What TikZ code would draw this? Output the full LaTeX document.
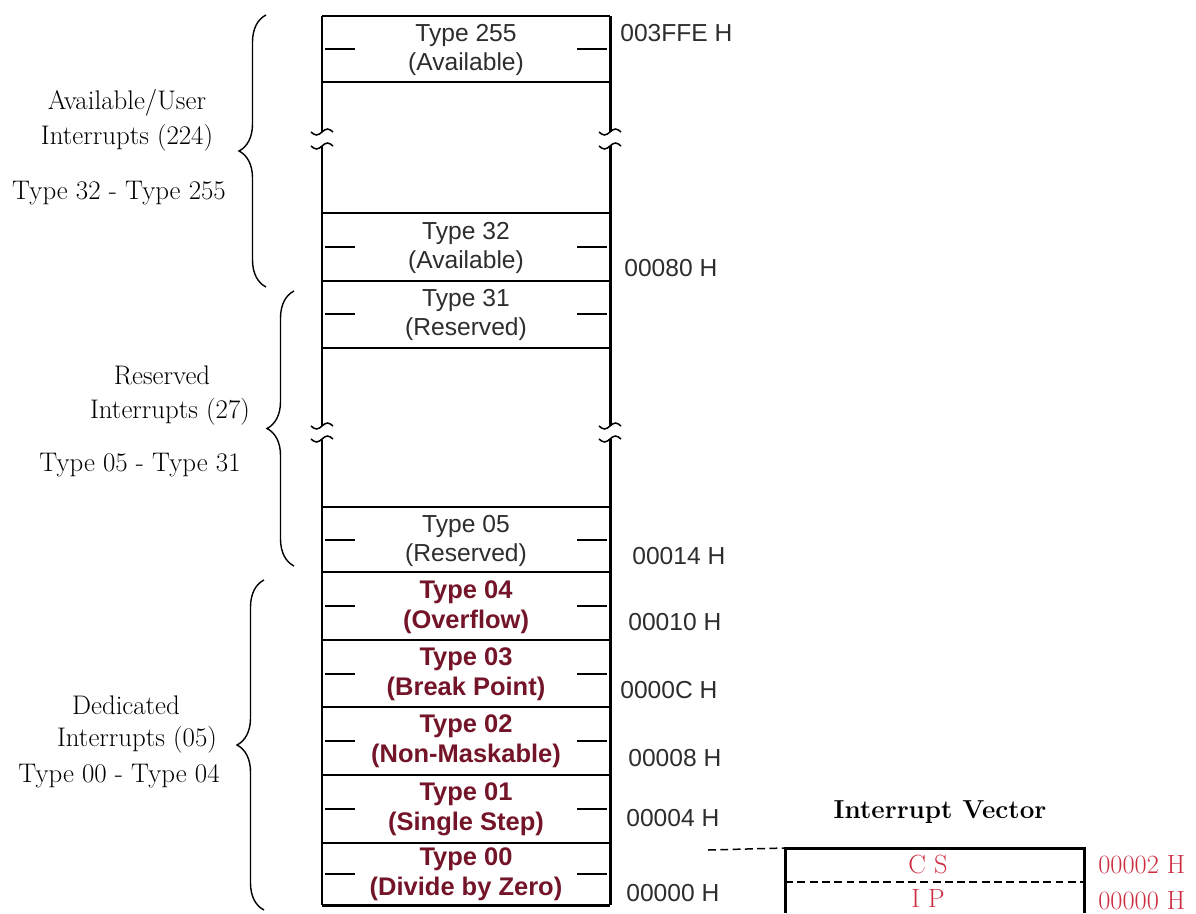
\documentclass[tikz,border=0pt]{standalone}
\usepackage{fontspec}
\newfontfamily\arialfont{Liberation Sans}
\usetikzlibrary{decorations.pathreplacing}
\definecolor{cellgray}{RGB}{45,45,45}
\definecolor{darkmaroon}{RGB}{115,20,40}
\definecolor{vecred}{RGB}{205,45,65}
\tikzset{
  cell/.style={align=center,text=cellgray,font=\arialfont\fontsize{14}{17}\selectfont},
  cellred/.style={align=center,text=darkmaroon,font=\arialfont\bfseries\fontsize{14.5}{17}\selectfont},
  addr/.style={anchor=west,inner sep=0pt,text=cellgray,font=\arialfont\fontsize{14}{17}\selectfont},
  side/.style={font=\fontsize{15.3}{18}\selectfont},
  vec/.style={text=vecred,font=\fontsize{15}{18}\selectfont},
  outer/.style={line width=1.7pt},
  inner/.style={line width=0.85pt},
  tick/.style={line width=0.85pt},
  curly/.style={decorate,decoration={brace,amplitude=0.54cm},line width=0.8pt},
  gapdash/.style={dash pattern=on 4.5pt off 2.5pt},
}
\begin{document}
\begin{tikzpicture}[x=0.02cm,y=-0.02cm]
  \useasboundingbox (0,0) rectangle (1196,913);
  % vector table
  \draw[outer] (322,16) -- (610,16);
  \draw[outer] (322,905) -- (610,905);
  \foreach \x in {322,610} {
    \draw[outer] (\x,16) -- (\x,132);
    \draw[outer] (\x,146) -- (\x,426);
    \draw[outer] (\x,439) -- (\x,905);
    \foreach \y in {132,146,426,439}
      \draw[inner] (\x-11,\y) sin (\x-5.5,\y+3) cos (\x,\y) sin (\x+5.5,\y-3) cos (\x+11,\y);
  }
  \foreach \y in {82,213,281,348,507,572,640,707,775,843}
    \draw[inner] (322,\y) -- (610,\y);
  \foreach \y in {49,247,314,540,606,674,741,809,874} {
    \draw[tick] (325,\y) -- (355,\y);
    \draw[tick] (577,\y) -- (607,\y);
  }
  \node[cell] (t255) at (466,50) {Type 255\\(Available)};
  \node[cell] (t32) at (466,248) {Type 32\\(Available)};
  \node[cell] (t31) at (466,315) {Type 31\\(Reserved)};
  \node[cell] (t05) at (466,541) {Type 05\\(Reserved)};
  \node[cellred] (t04) at (466,607) {Type 04\\(Overflow)};
  \node[cellred] (t03) at (466,674) {Type 03\\(Break Point)};
  \node[cellred] (t02) at (466,741) {Type 02\\(Non-Maskable)};
  \node[cellred] (t01) at (466,809) {Type 01\\(Single Step)};
  \node[cellred] (t00) at (466,874) {Type 00\\(Divide by Zero)};
  % addresses
  \node[addr] (a255) at (620,33) {003FFE H};
  \node[addr] (a32) at (624,268) {00080 H};
  \node[addr] (a05) at (632,556) {00014 H};
  \node[addr] (a04) at (628,622) {00010 H};
  \node[addr] (a03) at (620,690) {0000C H};
  \node[addr] (a02) at (628,758) {00008 H};
  \node[addr] (a01) at (626,818) {00004 H};
  \node[addr] (a00) at (626,893) {00000 H};
  % groups
  \coordinate (b1top) at (266,15);
  \coordinate (b1bot) at (266,287);
  \coordinate (b2top) at (294,291);
  \coordinate (b2bot) at (294,566);
  \coordinate (b3top) at (264,580);
  \coordinate (b3bot) at (264,910);
  \draw[curly] (b1bot) -- (b1top);
  \draw[curly] (b2bot) -- (b2top);
  \draw[curly] (b3bot) -- (b3top);
  \node[side] (user1) at (127,103) {Available/User};
  \node[side] (user2) at (127,138) {Interrupts (224)};
  \node[side] (user3) at (119,193) {Type 32 - Type 255};
  \node[side] (res1) at (162,375) {Reserved};
  \node[side] (res2) at (170,412) {Interrupts (27)};
  \node[side] (res3) at (140,465) {Type 05 - Type 31};
  \node[side] (ded1) at (126,705) {Dedicated};
  \node[side] (ded2) at (137,740) {Interrupts (05)};
  \node[side] (ded3) at (119,776) {Type 00 - Type 04};
  % interrupt vector
  \node[font=\bfseries\fontsize{14.8}{18}\selectfont] (ivtitle) at (940,812) {Interrupt Vector};
  \coordinate (ivtl) at (785,848);
  \coordinate (ivtr) at (1084,848);
  \coordinate (ivbl) at (785,913);
  \coordinate (ivbr) at (1084,913);
  \coordinate (ivml) at (785,882);
  \coordinate (ivmr) at (1084,882);
  \coordinate (stub) at (708,850);
  \draw[outer] (ivbl) -- (ivtl) -- (ivtr) -- (ivbr);
  \draw[inner,gapdash] (stub) -- (ivtl);
  \draw[inner,gapdash] (ivml) -- (ivmr);
  \node[vec] (cs) at (928,864) {C S};
  \node[vec] (ip) at (928,898) {I P};
  \node[vec,anchor=west,inner sep=0pt] (av2) at (1098,865) {00002 H};
  \node[vec,anchor=west,inner sep=0pt] (av0) at (1098,901) {00000 H};
\end{tikzpicture}
\end{document}
